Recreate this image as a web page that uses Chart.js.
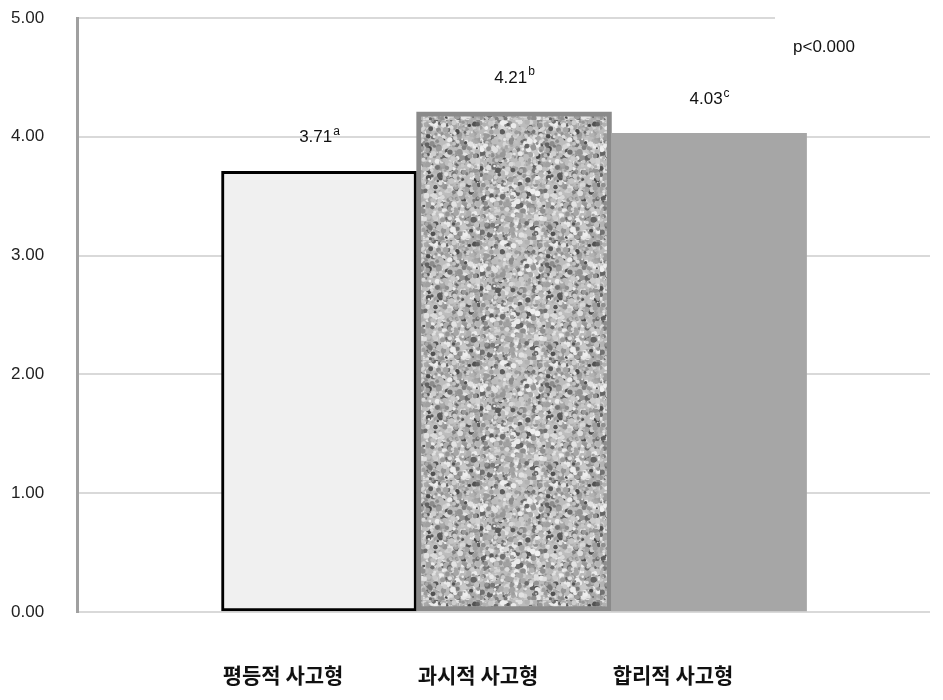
<!DOCTYPE html>
<html>
<head>
<meta charset="utf-8">
<script src="https://cdn.jsdelivr.net/npm/chart.js@4.4.0/dist/chart.umd.min.js"></script>
<style>
  html, body { margin: 0; padding: 0; background: #fff; }
</style>
</head>
<body>
<canvas id="chart" width="943" height="700"></canvas>
<script>
// chart values
const categories = ['평등적 사고형', '과시적 사고형', '합리적 사고형'];
const means = [3.71, 4.21, 4.03];
const letters = ['a', 'b', 'c'];
const yTicks = [0, 1, 2, 3, 4, 5];
const pNote = 'p<0.000';

// speckled texture for the middle bar (seeded, so same every time)
function makeTexture() {
  const c = document.createElement('canvas');
  c.width = 120; c.height = 120;
  const g = c.getContext('2d');
  let seed = 12345;
  const rnd = () => { seed = (seed * 1103515245 + 12345) % 2147483648; return seed / 2147483648; };
  g.fillStyle = '#bcbcbc';
  g.fillRect(0, 0, 120, 120);
  g.filter = 'blur(0.7px)';
  for (let i = 0; i < 2200; i++) {
    const r = rnd();
    const v = Math.round(r < 0.15 ? 70 + rnd() * 60 : 140 + rnd() * 100);
    g.fillStyle = `rgb(${v},${v},${v})`;
    g.beginPath();
    g.arc(rnd() * 120, rnd() * 120, 1 + rnd() * 2, 0, Math.PI * 2);
    g.fill();
  }
  return g.createPattern(c, 'repeat');
}

const valueLabels = {
  id: 'valueLabels',
  afterDatasetsDraw(chart) {
    const ctx = chart.ctx;
    const meta = chart.getDatasetMeta(0);
    ctx.save();
    ctx.fillStyle = '#111';
    ctx.textBaseline = 'middle';
    meta.data.forEach((bar, i) => {
      const txt = means[i].toFixed(2);
      ctx.font = '17px "Liberation Sans"';
      const w = ctx.measureText(txt).width;
      ctx.font = '12px "Liberation Sans"';
      const sw = ctx.measureText(letters[i]).width;
      const x0 = bar.x - (w + sw) / 2;
      const y = bar.y - 34;
      ctx.font = '17px "Liberation Sans"';
      ctx.textAlign = 'left';
      ctx.fillText(txt, x0, y);
      ctx.font = '12px "Liberation Sans"';
      ctx.fillText(letters[i], x0 + w + 1, y - 6);
    });
    // p-value note, sits over the end of the top grid line
    const area = chart.chartArea;
    ctx.fillStyle = '#fff';
    ctx.fillRect(775, area.top - 4, 170, 8);
    ctx.fillStyle = '#111';
    ctx.font = '17px "Liberation Sans"';
    ctx.textAlign = 'left';
    ctx.fillText(pNote, 793, 47);
    ctx.restore();
  }
};

new Chart(document.getElementById('chart'), {
  type: 'bar',
  data: {
    datasets: [{
      data: means.map((v, i) => ({ x: i, y: v })),
      backgroundColor: ['#f0f0f0', makeTexture(), '#a6a6a6'],
      borderColor: ['#000000', '#8a8a8a', '#a6a6a6'],
      borderWidth: [3, 5, 0],
      borderSkipped: false,
      barPercentage: 1,
      categoryPercentage: 1
    }]
  },
  options: {
    responsive: false,
    animation: false,
    layout: { padding: { left: 11, right: 13, top: 18, bottom: 0 } },
    plugins: { legend: { display: false }, tooltip: { enabled: false } },
    scales: {
      x: {
        type: 'linear',
        offset: false,
        min: -1.241,
        max: 3.133,
        afterBuildTicks: (scale) => { scale.ticks = categories.map((c, i) => ({ value: i })); },
        afterFit: (scale) => { scale.height = 88; },
        grid: { display: false, drawTicks: false },
        border: { display: false },
        ticks: {
          callback: (value) => categories[value],
          labelOffset: -36,
          padding: 50,
          maxRotation: 0,
          autoSkip: false,
          color: '#111',
          font: { family: '"Noto Sans CJK KR"', size: 21, weight: 'bold' }
        }
      },
      y: {
        min: 0,
        max: 5,
        afterBuildTicks: (scale) => { scale.ticks = yTicks.map(v => ({ value: v })); },
        afterFit: (scale) => { scale.width = 66; },
        grid: { color: '#d9d9d9', lineWidth: 2, drawTicks: false },
        border: { color: '#a0a0a0', width: 3 },
        ticks: {
          callback: (value) => value.toFixed(2),
          crossAlign: 'far',
          autoSkip: false,
          color: '#222',
          font: { family: '"Liberation Sans"', size: 17 }
        }
      }
    }
  },
  plugins: [valueLabels]
});
</script>
</body>
</html>
